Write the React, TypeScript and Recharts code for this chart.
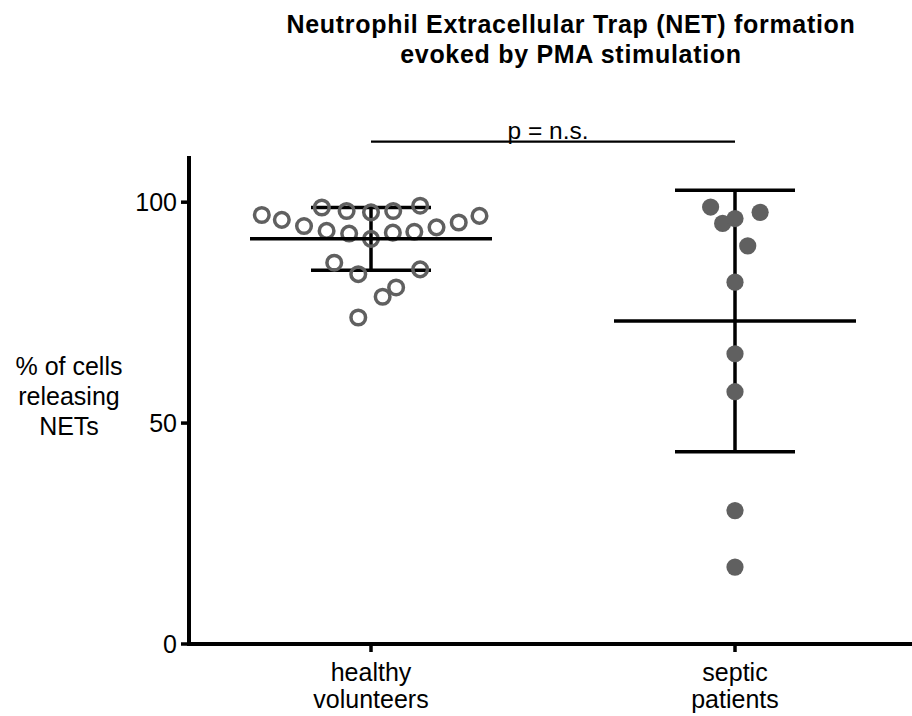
import { ScatterChart, Scatter, XAxis, YAxis, ErrorBar, ReferenceLine } from "recharts";

// group positions on the numeric x axis
const groupPositions = [0.5, 1.5];
const groupTickLines = [
  ["healthy", "volunteers"],
  ["septic", "patients"],
];

// % of cells releasing NETs
const healthyValues = [
  97.1, 96.0, 94.6, 98.8, 93.5, 98.0, 92.9, 97.7, 91.7, 98.0, 93.1,
  99.2, 93.3, 94.3, 95.4, 96.9, 86.3, 83.7, 84.8, 80.7, 78.6, 73.9,
];
const healthyJitter = [
  -0.3, -0.245, -0.184, -0.135, -0.122, -0.067, -0.06, 0, 0, 0.061, 0.06,
  0.135, 0.119, 0.18, 0.241, 0.298, -0.101, -0.035, 0.135, 0.069, 0.032, -0.035,
];

const septicValues = [98.9, 95.2, 96.3, 97.7, 90.1, 81.9, 65.7, 57.1, 30.2, 17.4];
const septicJitter = [-0.067, -0.034, 0, 0.069, 0.035, 0, 0, 0, 0, 0];

// mean +/- SD per group
const groupMeans = [91.7, 73.1];
const groupSds = [7.1, 29.6];

const yTicks = [0, 50, 100];
const bracketLevel = 113.7;
const bracketLabel = "p = n.s.";

const FONT = '"Liberation Sans", Arial, Helvetica, sans-serif';
const DOT = "#606060";

const healthyData = healthyValues.map((v, i) => ({ x: groupPositions[0] + healthyJitter[i], y: v }));
const septicData = septicValues.map((v, i) => ({ x: groupPositions[1] + septicJitter[i], y: v }));
const summaryData = groupMeans.map((m, i) => ({ x: groupPositions[i], y: m, sd: groupSds[i] }));

// eslint-disable-next-line @typescript-eslint/no-explicit-any
function OpenDot(props: any) {
  return <circle cx={props.cx} cy={props.cy} r={7.3} fill="none" stroke={DOT} strokeWidth={3.5} />;
}

// eslint-disable-next-line @typescript-eslint/no-explicit-any
function FilledDot(props: any) {
  return <circle cx={props.cx} cy={props.cy} r={8.6} fill={DOT} />;
}

// eslint-disable-next-line @typescript-eslint/no-explicit-any
function MeanLine(props: any) {
  return (
    <line x1={props.cx - 121} x2={props.cx + 121} y1={props.cy} y2={props.cy} stroke="#000" strokeWidth={3.5} />
  );
}

// eslint-disable-next-line @typescript-eslint/no-explicit-any
function GroupTick(props: any) {
  const { x, y, payload } = props;
  const idx = groupPositions.indexOf(payload.value);
  const lines = groupTickLines[idx] || [];
  return (
    <text x={x} y={y} textAnchor="middle" fontFamily={FONT} fontSize={25} fill="#000">
      {lines.map((l, i) => (
        <tspan key={i} x={x} dy={27}>
          {l}
        </tspan>
      ))}
    </text>
  );
}

export default function App() {
  return (
    <div
      style={{
        position: "absolute",
        left: 0,
        top: 0,
        width: 912,
        height: 716,
        overflow: "hidden",
        background: "#fff",
        fontFamily: FONT,
      }}
    >
      <div
        style={{
          position: "absolute",
          left: 271,
          width: 600,
          top: 8.6,
          textAlign: "center",
          fontWeight: "bold",
          fontSize: 25,
          lineHeight: "30px",
          letterSpacing: 0.7,
          color: "#000",
        }}
      >
        Neutrophil Extracellular Trap (NET) formation
        <br />
        evoked by PMA stimulation
      </div>
      <div
        style={{
          position: "absolute",
          left: 0,
          width: 138,
          top: 351,
          textAlign: "center",
          fontSize: 25,
          lineHeight: "30px",
          color: "#000",
        }}
      >
        % of cells
        <br />
        releasing
        <br />
        NETs
      </div>
      <div
        style={{
          position: "absolute",
          left: 448,
          width: 200,
          top: 115.5,
          textAlign: "center",
          fontSize: 24.5,
          lineHeight: "30px",
          color: "#000",
        }}
      >
        {bracketLabel}
      </div>
      <ScatterChart width={917} height={716} margin={{ top: 158, right: 0, bottom: 0, left: 0 }}>
        <XAxis
          type="number"
          dataKey="x"
          domain={[0, 2]}
          ticks={groupPositions}
          height={72}
          tickSize={8}
          axisLine={{ stroke: "#000", strokeWidth: 4, strokeLinecap: "square" }}
          tickLine={{ stroke: "#000", strokeWidth: 3.5 }}
          tick={<GroupTick />}
          allowDataOverflow
        />
        <YAxis
          type="number"
          dataKey="y"
          domain={[0, 110]}
          ticks={yTicks}
          width={189}
          tickSize={8}
          tickMargin={4}
          axisLine={{ stroke: "#000", strokeWidth: 4, strokeLinecap: "square" }}
          tickLine={{ stroke: "#000", strokeWidth: 3.5 }}
          tick={{ fill: "#000", fontSize: 25, fontFamily: FONT }}
          allowDataOverflow
        />
        <ReferenceLine
          segment={[
            { x: groupPositions[0], y: bracketLevel },
            { x: groupPositions[1], y: bracketLevel },
          ]}
          stroke="#000"
          strokeWidth={2.2}
          ifOverflow="visible"
        />
        <Scatter data={healthyData} shape={OpenDot} isAnimationActive={false} />
        <Scatter data={septicData} shape={FilledDot} isAnimationActive={false} />
        <Scatter data={summaryData} shape={MeanLine} isAnimationActive={false}>
          <ErrorBar dataKey="sd" direction="y" width={60} stroke="#000" strokeWidth={3.5} isAnimationActive={false} />
        </Scatter>
      </ScatterChart>
    </div>
  );
}
